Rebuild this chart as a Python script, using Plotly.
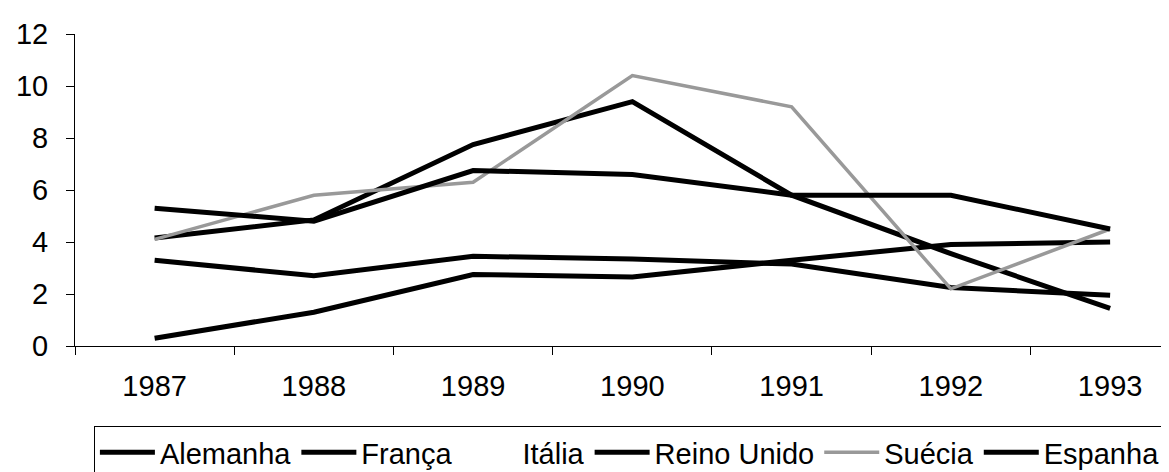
import plotly.graph_objects as go

years = ["1987", "1988", "1989", "1990", "1991", "1992", "1993"]
alemanha = [0.3, 1.3, 2.75, 2.65, 3.3, 3.9, 4.0]
franca = [3.3, 2.7, 3.45, 3.35, 3.15, 2.25, 1.95]
italia = [None, None, None, None, None, None, None]
reino_unido = [4.15, 4.85, 7.75, 9.4, 5.8, 3.55, 1.45]
suecia = [4.1, 5.8, 6.3, 10.4, 9.2, 2.2, 4.5]
espanha = [5.3, 4.8, 6.75, 6.6, 5.8, 5.8, 4.5]
y_ticks = [0, 2, 4, 6, 8, 10, 12]

series = [
    ("Alemanha", alemanha, "black", 5),
    ("França", franca, "black", 5),
    ("Itália", italia, "white", 5),
    ("Reino Unido", reino_unido, "black", 5),
    ("Suécia", suecia, "#999999", 3.5),
    ("Espanha", espanha, "black", 5),
]

fig = go.Figure()
for name, vals, color, w in series:
    fig.add_trace(go.Scatter(x=years, y=vals, name=name, mode="lines",
                             line=dict(color=color, width=w), showlegend=True))

font = "Liberation Sans, Arial, sans-serif"
fs = 29
fig.update_layout(
    width=1169, height=472,
    margin=dict(l=67, r=0, t=26, b=134),
    paper_bgcolor="white", plot_bgcolor="white",
    font=dict(family=font, size=fs, color="black"),
    xaxis=dict(type="category", range=[-0.5, 6.42], showline=True, linecolor="black",
               linewidth=1, ticks="outside", ticklen=8, tickcolor="black",
               tickson="boundaries", showgrid=False, zeroline=False,
               ticklabelstandoff=14, tickfont=dict(size=fs)),
    yaxis=dict(range=[0, 12], tickvals=y_ticks, showline=True, linecolor="black",
               linewidth=1, ticks="outside", ticklen=8, tickcolor="black",
               showgrid=False, zeroline=False, ticklabelstandoff=12,
               tickfont=dict(size=fs)),
    legend=dict(orientation="h", xref="container", yref="container",
                x=0.532, xanchor="center", y=1 - 418 / 472, yanchor="top",
                bordercolor="black", borderwidth=1, bgcolor="white",
                font=dict(size=fs), itemwidth=55, traceorder="normal"),
)

fig.write_html("out.html")
